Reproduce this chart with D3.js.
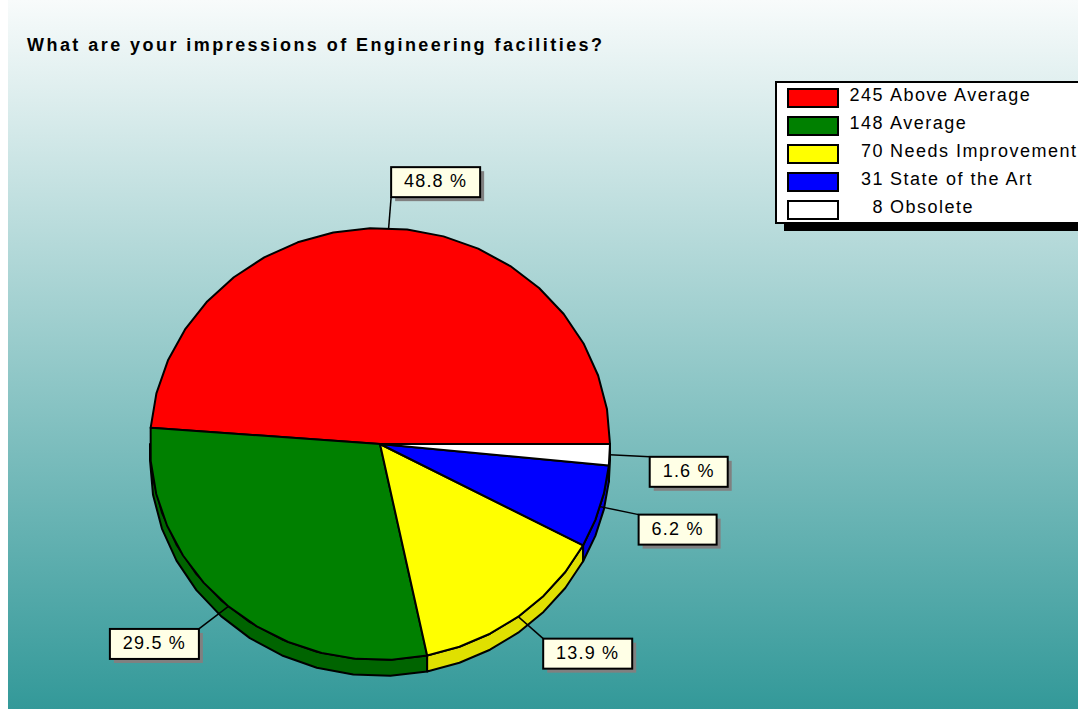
<!DOCTYPE html>
<html>
<head>
<meta charset="utf-8">
<script src="https://cdn.jsdelivr.net/npm/d3@7"></script>
<style>
  body { margin: 0; background: #ffffff; }
  text { font-family: "Liberation Sans", Arial, sans-serif; }
</style>
</head>
<body>
<div id="chart"></div>
<script>
// chart data
var title = "What are your impressions of Engineering facilities?";
var categories = ["Above Average", "Average", "Needs Improvement", "State of the Art", "Obsolete"];
var counts = [245, 148, 70, 31, 8];

(function () {
    var W = 1078, H = 709;
    var total = d3.sum(counts);

    var topColor = d3.scaleOrdinal().domain(categories)
        .range(["#ff0000", "#008000", "#ffff00", "#0000ff", "#ffffff"]);
    var sideColor = d3.scaleOrdinal().domain(categories)
        .range(["#c00000", "#006400", "#e0e000", "#0000e6", "#e0e0e0"]);
    var pctFmt = function (v) { return d3.format(".1f")(v / total * 100) + " %"; };

    var svg = d3.select("#chart").append("svg")
        .attr("width", W).attr("height", H);

    // background gradient
    var defs = svg.append("defs");
    var grad = defs.append("linearGradient").attr("id", "bg")
        .attr("x1", 0).attr("y1", 0).attr("x2", 0).attr("y2", 1);
    grad.append("stop").attr("offset", "0%").attr("stop-color", "#f8fbfb");
    grad.append("stop").attr("offset", "100%").attr("stop-color", "#339999");
    svg.append("rect").attr("x", 8).attr("y", 0).attr("width", W - 8).attr("height", H)
        .attr("fill", "url(#bg)");

    // title
    svg.append("text")
        .attr("x", 27).attr("y", 51)
        .attr("font-size", "18px").attr("font-weight", "bold")
        .attr("letter-spacing", "2.45px")
        .attr("fill", "#000")
        .text(title);

    // pie geometry (ellipse, 3d depth)
    var cx = 380, cy = 444, rx = 230, ry = 216, depth = 16;
    var pie = d3.pie().sort(null).value(function (d) { return d; })
        .startAngle(Math.PI / 2).endAngle(Math.PI / 2 - 2 * Math.PI);
    var arcs = pie(counts);

    function pt(a, dy) {
        return [cx + rx * Math.sin(a), cy - ry * Math.cos(a) + (dy || 0)];
    }
    function arcPoints(a0, a1, dy) {
        var n = Math.max(1, Math.ceil(Math.abs(a1 - a0) / (9.5 * Math.PI / 180)));
        var pts = [];
        for (var i = 0; i <= n; i++) pts.push(pt(a0 + (a1 - a0) * i / n, dy));
        return pts;
    }
    var line = d3.line();

    var g = svg.append("g");

    // side faces (lower half only)
    var lowLo = -3 * Math.PI / 2, lowHi = -Math.PI / 2;
    arcs.forEach(function (d, i) {
        var lo = Math.max(Math.min(d.startAngle, d.endAngle), lowLo);
        var hi = Math.min(Math.max(d.startAngle, d.endAngle), lowHi);
        if (hi <= lo) return;
        var topEdge = arcPoints(hi, lo, 0);
        var botEdge = arcPoints(lo, hi, depth);
        g.append("path")
            .attr("d", line(topEdge.concat(botEdge)) + "Z")
            .attr("fill", sideColor(categories[i]))
            .attr("stroke", "#000").attr("stroke-width", 2)
            .attr("stroke-linejoin", "round");
    });

    // top faces
    arcs.forEach(function (d, i) {
        var pts = [[cx, cy]].concat(arcPoints(d.startAngle, d.endAngle, 0));
        g.append("path")
            .attr("d", line(pts) + "Z")
            .attr("fill", topColor(categories[i]))
            .attr("stroke", "#000").attr("stroke-width", 2)
            .attr("stroke-linejoin", "round");
    });

    // percentage labels: box centre offset from the slice anchor
    var labelOffsets = [[47, -46], [-74, 37.5], [69.5, 37], [77.5, 23], [79, 17]];
    var lab = svg.append("g");
    arcs.forEach(function (d, i) {
        var mid = (d.startAngle + d.endAngle) / 2;
        var a = pt(mid, 0);
        var bx = a[0] + labelOffsets[i][0], by = a[1] + labelOffsets[i][1];
        var t = lab.append("text")
            .attr("x", bx).attr("y", by + 5)
            .attr("text-anchor", "middle")
            .attr("font-size", "18px").attr("letter-spacing", "1.2px")
            .attr("fill", "#000")
            .text(pctFmt(d.data));
        var tw = t.node().getComputedTextLength();
        var bw = Math.round(tw + 26), bh = 30;
        var x0 = bx - bw / 2, y0 = by - bh / 2;
        var ex = Math.max(x0, Math.min(a[0], x0 + bw));
        var ey = Math.max(y0, Math.min(a[1], y0 + bh));
        lab.insert("line", "text")
            .attr("x1", a[0]).attr("y1", a[1]).attr("x2", ex).attr("y2", ey)
            .attr("stroke", "#000").attr("stroke-width", 1.5);
        lab.insert("rect", "text")
            .attr("x", x0 + 4).attr("y", y0 + 4).attr("width", bw).attr("height", bh)
            .attr("fill", "#808080");
        lab.insert("rect", "text")
            .attr("x", x0).attr("y", y0).attr("width", bw).attr("height", bh)
            .attr("fill", "#ffffe6").attr("stroke", "#000").attr("stroke-width", 2);
    });

    // legend
    var lg = svg.append("g");
    var lx = 776, ly = 82, lw = 320, lh = 141;
    lg.append("rect").attr("x", lx + 8).attr("y", ly + 8).attr("width", lw).attr("height", lh)
        .attr("fill", "#000");
    lg.append("rect").attr("x", lx).attr("y", ly).attr("width", lw).attr("height", lh)
        .attr("fill", "#fff").attr("stroke", "#000").attr("stroke-width", 2);
    var rowY = d3.scaleBand().domain(categories).range([ly + 3, ly + 3 + 28 * categories.length]);
    categories.forEach(function (c, i) {
        var y = rowY(c);
        lg.append("rect").attr("x", 788).attr("y", y + 4).attr("width", 50).attr("height", 18)
            .attr("fill", topColor(c)).attr("stroke", "#000").attr("stroke-width", 2);
        lg.append("text").attr("x", 884).attr("y", y + 16)
            .attr("text-anchor", "end")
            .attr("font-size", "18px").attr("letter-spacing", "1.5px")
            .text(counts[i]);
        lg.append("text").attr("x", 890).attr("y", y + 16)
            .attr("font-size", "18px").attr("letter-spacing", "1.5px")
            .text(c);
    });
})();
</script>
</body>
</html>
